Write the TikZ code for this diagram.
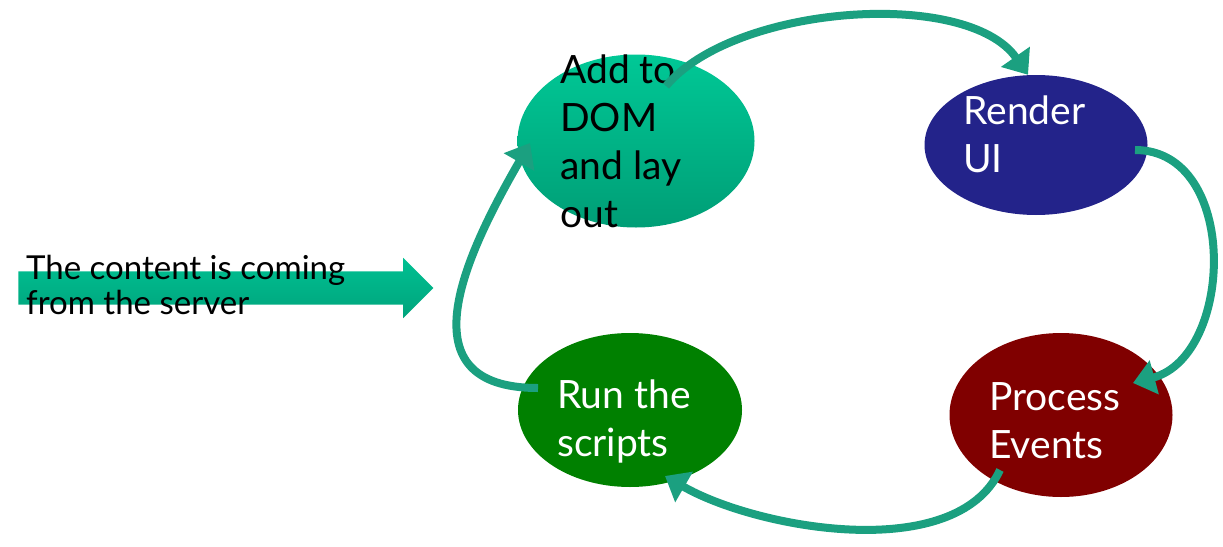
\documentclass[tikz,border=0pt]{standalone}
\usepackage{fontspec}
\setmainfont{Lato}
\usetikzlibrary{shapes,arrows.meta}
\definecolor{flowteal}{RGB}{27,160,128}
\definecolor{domtop}{RGB}{0,200,150}
\definecolor{dombottom}{RGB}{0,158,118}
\definecolor{uinavy}{RGB}{35,35,138}
\definecolor{eventred}{RGB}{128,0,0}
\definecolor{scriptgreen}{RGB}{0,128,0}
\definecolor{feedtop}{RGB}{0,192,146}
\definecolor{feedbottom}{RGB}{0,164,124}
\tikzset{
    stage/.style ={ellipse, inner sep=0pt},
    caption/.style ={anchor=north west, inner sep=0pt, align=left, font=\fontsize{39}{48}\selectfont},
    flow/.style ={draw=flowteal, line width=8pt, -{Triangle[length=22pt,width=34pt]}},
    feedarrow/.style ={single arrow, single arrow head extend=13.5pt, minimum height=415pt,
        inner xsep=0pt, inner ysep=16.5pt, top color=feedtop, bottom color=feedbottom}
}
\begin{document}
\begin{tikzpicture}[x=1pt,y=-1pt]
  \useasboundingbox (0,0) rectangle (1223,546);

  \node[feedarrow] (feed) at (217.5,288) {};

  \node[caption, font=\fontsize{33}{35}\selectfont] (feedtxt) at (26,255) {The content is coming\\from the server};

  \node[stage, minimum width=237pt, minimum height=173pt, top color=domtop, bottom color=dombottom] (add) at (636,141) {};

  \node[stage, minimum width=223pt, minimum height=140pt, fill=uinavy] (render) at (1036,145) {};

  \node[stage, minimum width=223pt, minimum height=164pt, fill=eventred] (process) at (1061,415) {};

  \node[stage, minimum width=224pt, minimum height=154pt, fill=scriptgreen] (run) at (630,410) {};

  \node[caption] (addtxt) at (560,55) {Add to\\DOM\\and lay\\out};

  \node[caption, text=white] (rendertxt) at (963,96) {Render\\UI};

  \node[caption, text=white] (processtxt) at (989,382) {Process\\Events};

  \node[caption, text=white] (runtxt) at (557,380) {Run the\\scripts};

  \path ([shift={(30,-55)}]add.center) edge[flow, out=50, in=125, looseness=0.75] ([xshift=-8pt]render.north);

  \path ([shift={(99,5)}]render.center) edge[flow, out=0, in=15, looseness=1.15] ([shift={(72,-32)}]process.center);

  \path ([shift={(-61,55)}]process.center) edge[flow, out=-115, in=-30, looseness=0.8] ([shift={(35,66)}]run.center);

  \path ([shift={(-92,-22)}]run.center) edge[flow, out=180, in=-120, looseness=1.4] ([shift={(-106,2)}]add.center);
\end{tikzpicture}
\end{document}
